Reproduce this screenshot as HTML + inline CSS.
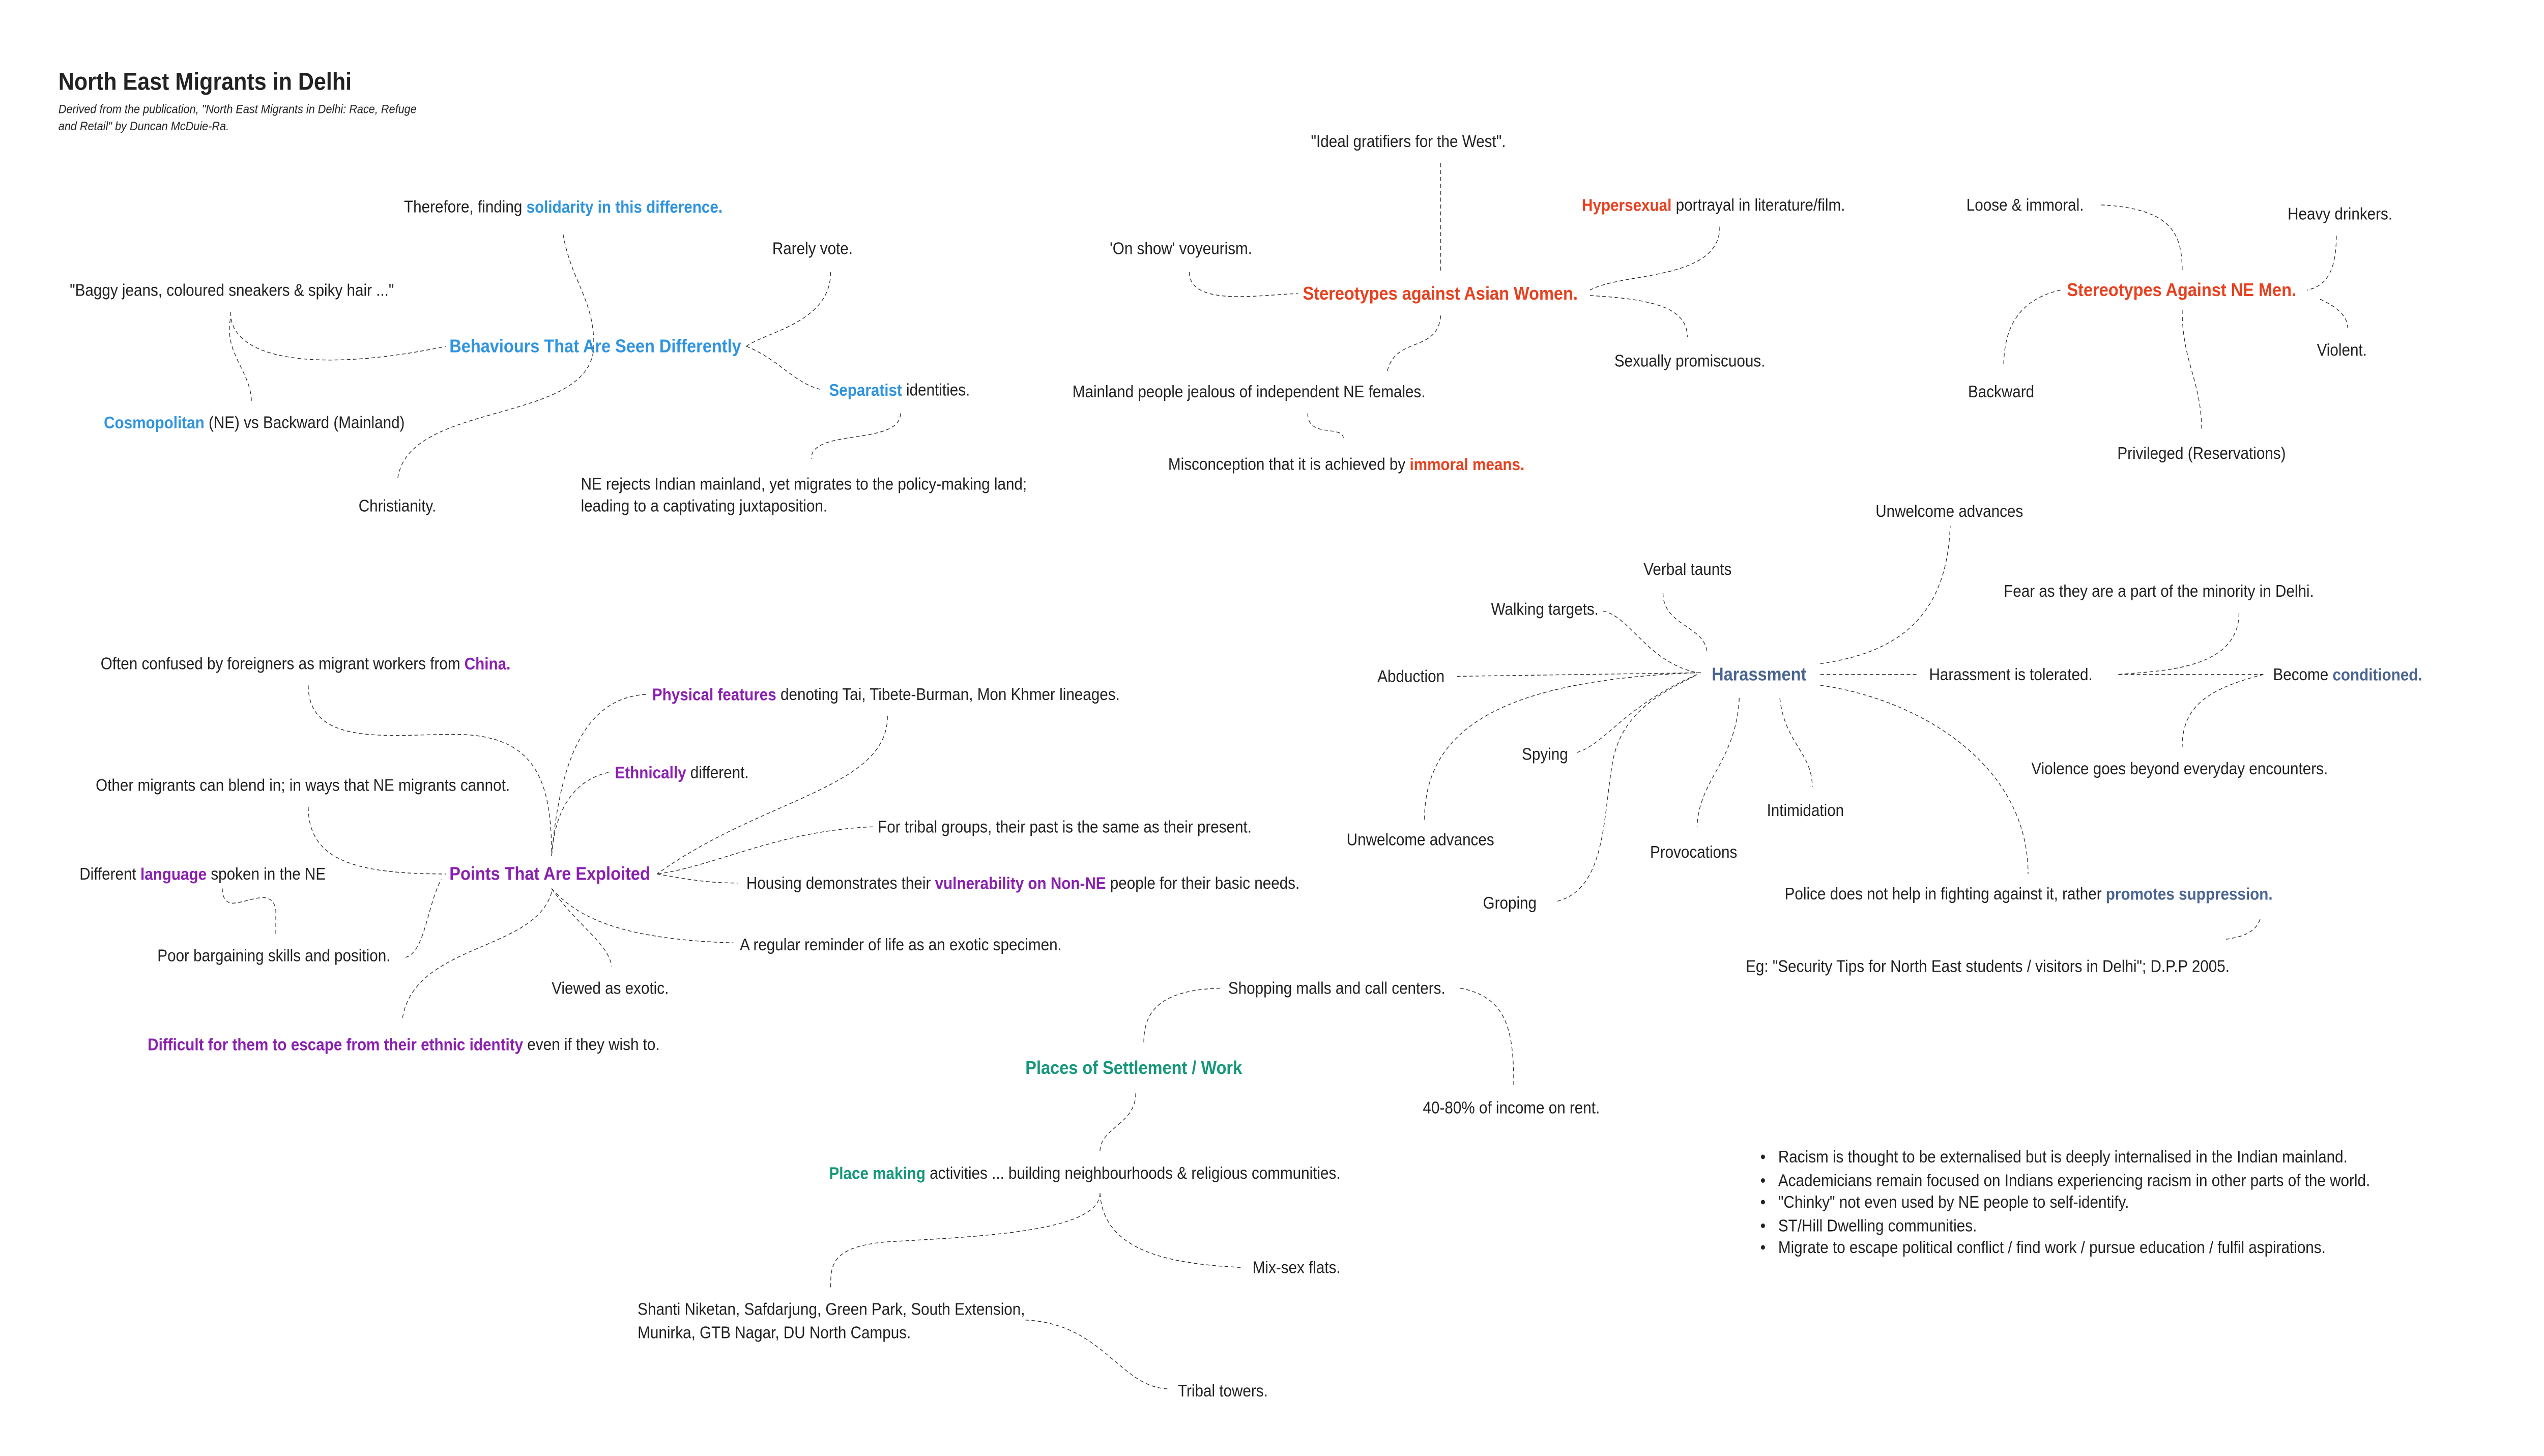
<!DOCTYPE html>
<html><head><meta charset="utf-8"><style>
html,body{margin:0;padding:0;background:#fff;overflow:hidden;width:100vw;height:100vh}
svg{display:block;width:100vw;height:100vh}
text{font-family:"Liberation Sans",sans-serif;font-size:9.3px;fill:#222;dominant-baseline:central}
.b{font-weight:bold}
.h{font-weight:bold;font-size:10.2px}
.bl{fill:#2f93e0}.rd{fill:#e8401f}.pu{fill:#8a1fb0}.gr{fill:#4a6591}.tl{fill:#14977a}
path{fill:none;stroke:#222;stroke-width:0.38;stroke-dasharray:2.2 1.6}
</style></head><body>
<svg viewBox="0 0 1568 803" preserveAspectRatio="none" xmlns="http://www.w3.org/2000/svg">
<text x="36" y="45" class="b" style="font-size:13.5px">North East Migrants in Delhi</text>
<text x="36" y="60" style="font-size:6.8px;font-style:italic">Derived from the publication, "North East Migrants in Delhi: Race, Refuge</text>
<text x="36" y="69.5" style="font-size:6.8px;font-style:italic">and Retail" by Duncan McDuie-Ra.</text>

<text x="249" y="114">Therefore, finding <tspan class="b bl">solidarity in this difference.</tspan></text>
<text x="476" y="137">Rarely vote.</text>
<text x="43" y="160">"Baggy jeans, coloured sneakers &amp; spiky hair ..."</text>
<text x="277" y="191" class="h bl">Behaviours That Are Seen Differently</text>
<text x="511" y="215"><tspan class="b bl">Separatist</tspan> identities.</text>
<text x="64" y="233"><tspan class="b bl">Cosmopolitan</tspan> (NE) vs Backward (Mainland)</text>
<text x="221" y="279">Christianity.</text>
<text x="358" y="267">NE rejects Indian mainland, yet migrates to the policy-making land;</text>
<text x="358" y="279">leading to a captivating juxtaposition.</text>
<path d="M347,129 C352,155 366,165 366,190 C366,235 250,220 245,265"/>
<path d="M142,172 C142,200 200,205 275,191"/>
<path d="M142,176 C138,195 155,205 155,222"/>
<path d="M512,150 C512,178 472,183 460,191"/>
<path d="M460,191 C480,198 490,212 507,215"/>
<path d="M555,228 C555,246 500,236 500,253"/>

<text x="808" y="78">"Ideal gratifiers for the West".</text>
<text x="975" y="113"><tspan class="b rd">Hypersexual</tspan> portrayal in literature/film.</text>
<text x="684" y="137">'On show' voyeurism.</text>
<text x="803" y="162" class="h rd">Stereotypes against Asian Women.</text>
<text x="995" y="199">Sexually promiscuous.</text>
<text x="661" y="216">Mainland people jealous of independent NE females.</text>
<text x="720" y="256">Misconception that it is achieved by <tspan class="b rd">immoral means.</tspan></text>
<path d="M888,90 L888,150"/>
<path d="M733,150 C733,170 780,162 800,162"/>
<path d="M1060,125 C1060,155 1000,150 980,160"/>
<path d="M980,163 C1020,165 1040,170 1040,186"/>
<path d="M888,174 C886,195 860,185 855,205"/>
<path d="M806,228 C806,242 828,234 828,242"/>

<text x="1212" y="113">Loose &amp; immoral.</text>
<text x="1410" y="118">Heavy drinkers.</text>
<text x="1274" y="160" class="h rd">Stereotypes Against NE Men.</text>
<text x="1428" y="193">Violent.</text>
<text x="1213" y="216">Backward</text>
<text x="1305" y="250">Privileged (Reservations)</text>
<path d="M1295,113 C1340,115 1345,130 1345,150"/>
<path d="M1440,130 C1440,152 1432,158 1422,160"/>
<path d="M1430,165 C1442,170 1447,175 1447,181"/>
<path d="M1270,160 C1245,165 1235,180 1235,202"/>
<path d="M1345,171 C1345,200 1357,210 1357,238"/>

<text x="1156" y="282">Unwelcome advances</text>
<text x="1013" y="314">Verbal taunts</text>
<text x="1235" y="326">Fear as they are a part of the minority in Delhi.</text>
<text x="919" y="336">Walking targets.</text>
<text x="849" y="373">Abduction</text>
<text x="1055" y="372" class="h gr">Harassment</text>
<text x="1189" y="372">Harassment is tolerated.</text>
<text x="1401" y="372">Become <tspan class="b gr">conditioned.</tspan></text>
<text x="938" y="416">Spying</text>
<text x="1252" y="424">Violence goes beyond everyday encounters.</text>
<text x="1089" y="447">Intimidation</text>
<text x="830" y="463">Unwelcome advances</text>
<text x="1017" y="470">Provocations</text>
<text x="914" y="498">Groping</text>
<text x="1100" y="493">Police does not help in fighting against it, rather <tspan class="b gr">promotes suppression.</tspan></text>
<text x="1076" y="533">Eg: "Security Tips for North East students / visitors in Delhi"; D.P.P 2005.</text>
<path d="M898,373 L1050,371"/>
<path d="M988,337 C1005,340 1015,365 1046,371"/>
<path d="M1025,327 C1025,345 1050,345 1052,359"/>
<path d="M878,452 C878,400 930,375 1046,371"/>
<path d="M972,415 C990,410 1000,390 1046,372"/>
<path d="M960,497 C990,490 988,450 994,420 C1000,390 1030,380 1046,372"/>
<path d="M1072,385 C1070,420 1047,430 1046,456"/>
<path d="M1097,385 C1100,410 1117,415 1117,434"/>
<path d="M1122,366 C1170,360 1200,340 1202,290"/>
<path d="M1122,372 L1182,372"/>
<path d="M1122,378 C1180,385 1250,420 1250,482"/>
<path d="M1380,338 C1380,370 1330,370 1305,372 L1395,372"/>
<path d="M1395,372 C1360,380 1345,390 1345,412"/>
<path d="M1393,507 C1390,515 1380,517 1372,518"/>

<text x="62" y="366">Often confused by foreigners as migrant workers from <tspan class="b pu">China.</tspan></text>
<text x="402" y="383"><tspan class="b pu">Physical features</tspan> denoting Tai, Tibete-Burman, Mon Khmer lineages.</text>
<text x="379" y="426"><tspan class="b pu">Ethnically</tspan> different.</text>
<text x="59" y="433">Other migrants can blend in; in ways that NE migrants cannot.</text>
<text x="541" y="456">For tribal groups, their past is the same as their present.</text>
<text x="49" y="482">Different <tspan class="b pu">language</tspan> spoken in the NE</text>
<text x="277" y="482" class="h pu">Points That Are Exploited</text>
<text x="460" y="487">Housing demonstrates their <tspan class="b pu">vulnerability on Non-NE</tspan> people for their basic needs.</text>
<text x="456" y="521">A regular reminder of life as an exotic specimen.</text>
<text x="97" y="527">Poor bargaining skills and position.</text>
<text x="340" y="545">Viewed as exotic.</text>
<text x="91" y="576"><tspan class="b pu">Difficult for them to escape from their ethnic identity</tspan> even if they wish to.</text>
<path d="M190,378 C190,412 240,405 280,405 C330,405 340,430 340,472"/>
<path d="M398,383 C360,385 345,420 340,472"/>
<path d="M375,426 C355,430 342,445 340,472"/>
<path d="M190,445 C190,475 220,482 275,482"/>
<path d="M538,456 C480,458 440,478 405,482"/>
<path d="M405,482 C430,486 440,487 455,487"/>
<path d="M547,395 C547,435 470,440 405,482"/>
<path d="M170,515 L170,502 C168,490 155,497 145,498 C138,499 137,493 137,490"/>
<path d="M250,528 C262,525 263,500 272,485"/>
<path d="M340,490 C355,505 380,518 452,520"/>
<path d="M340,490 C355,510 375,520 377,533"/>
<path d="M340,492 C330,525 255,520 248,562"/>

<text x="757" y="545">Shopping malls and call centers.</text>
<text x="632" y="589" class="h tl">Places of Settlement / Work</text>
<text x="877" y="611">40-80% of income on rent.</text>
<text x="511" y="647"><tspan class="b tl">Place making</tspan> activities ... building neighbourhoods &amp; religious communities.</text>
<text x="772" y="699">Mix-sex flats.</text>
<text x="393" y="722">Shanti Niketan, Safdarjung, Green Park, South Extension,</text>
<text x="393" y="735">Munirka, GTB Nagar, DU North Campus.</text>
<text x="726" y="767">Tribal towers.</text>
<path d="M752,545 C712,546 705,560 705,575"/>
<path d="M900,545 C930,550 933,570 933,600"/>
<path d="M700,603 C700,620 678,622 678,635"/>
<path d="M678,658 C678,680 600,682 545,685 C512,688 512,698 512,710"/>
<path d="M678,658 C680,690 720,697 765,699"/>
<path d="M632,728 C680,730 690,765 720,766"/>

<text x="1085" y="638">•</text><text x="1096" y="638">Racism is thought to be externalised but is deeply internalised in the Indian mainland.</text>
<text x="1085" y="651">•</text><text x="1096" y="651">Academicians remain focused on Indians experiencing racism in other parts of the world.</text>
<text x="1085" y="663">•</text><text x="1096" y="663">"Chinky" not even used by NE people to self-identify.</text>
<text x="1085" y="676">•</text><text x="1096" y="676">ST/Hill Dwelling communities.</text>
<text x="1085" y="688">•</text><text x="1096" y="688">Migrate to escape political conflict / find work / pursue education / fulfil aspirations.</text>
</svg>
</body></html>
